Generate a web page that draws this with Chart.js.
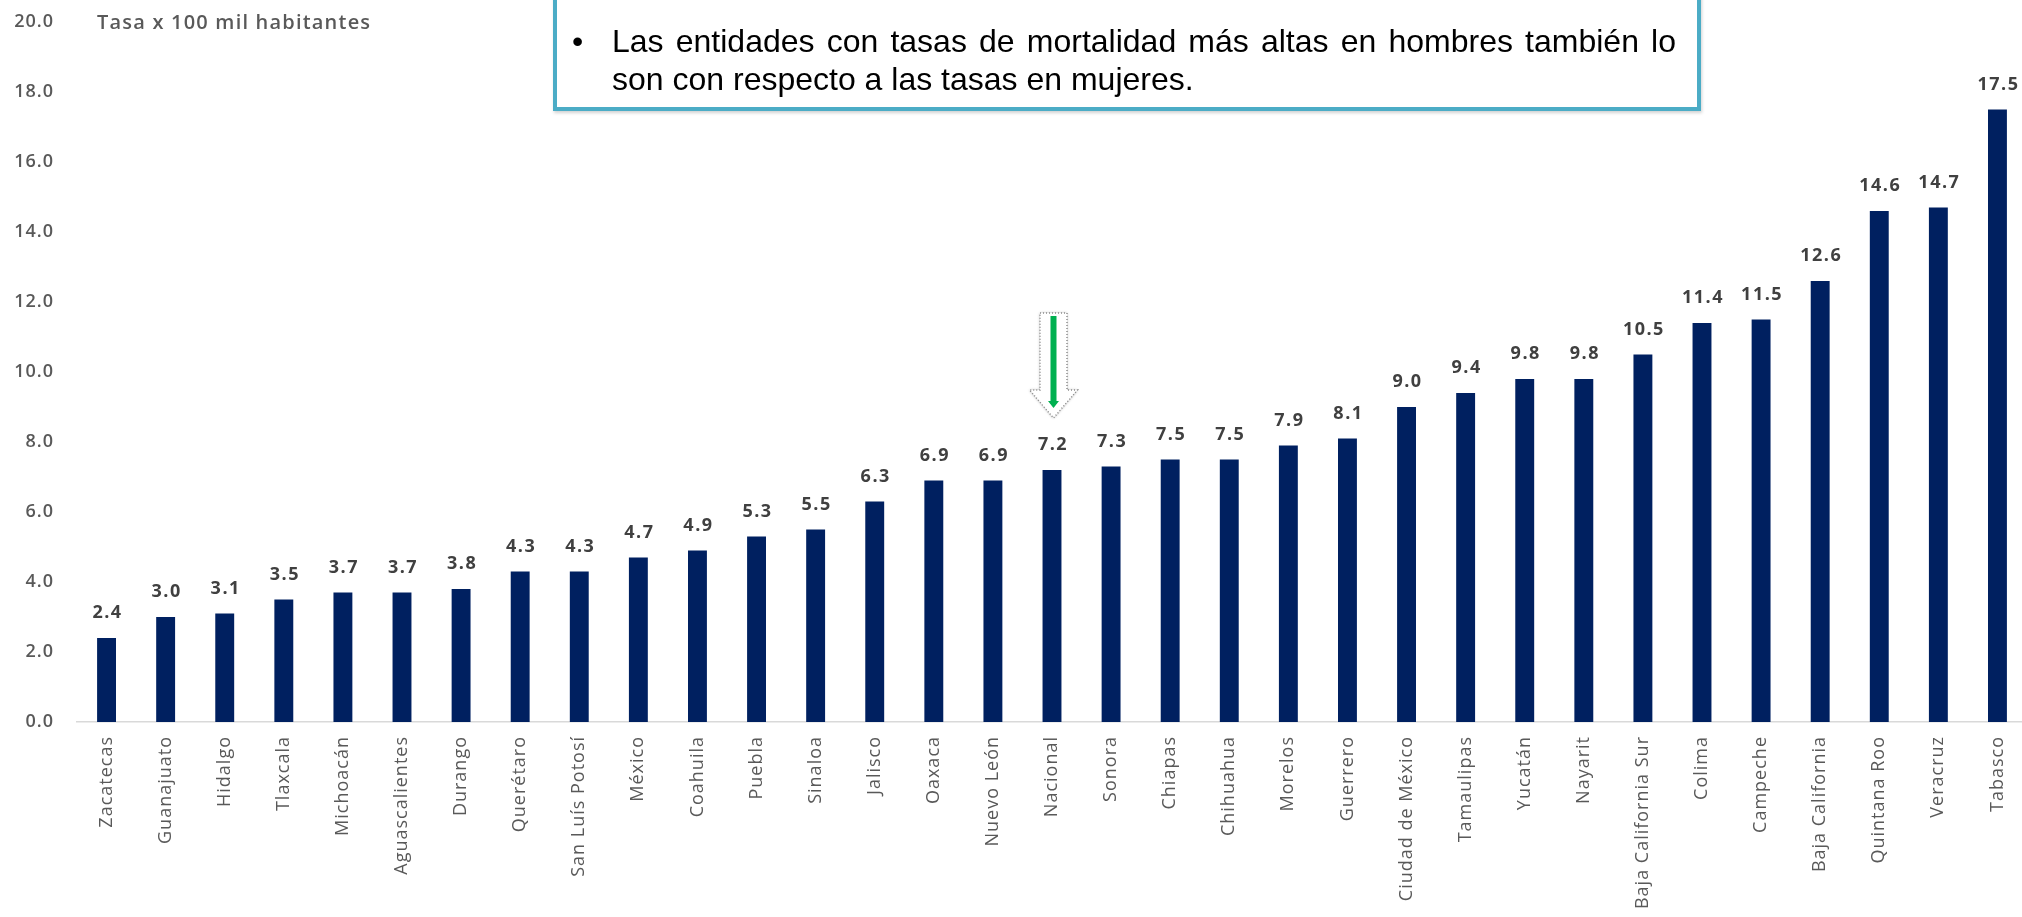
<!DOCTYPE html>
<html>
<head>
<meta charset="utf-8">
<script src="https://cdn.jsdelivr.net/npm/chart.js@4.4.1/dist/chart.umd.min.js"></script>
<style>
  html, body { margin: 0; padding: 0; background: #ffffff; width: 2022px; height: 917px; overflow: hidden; }
  #wrap { position: absolute; left: 0; top: 0; width: 2027px; height: 917px; }
  #note {
    position: absolute; left: 553px; top: -12px; width: 1148px; height: 123px;
    box-sizing: border-box; border: 4px solid #4BACC6; background: #ffffff;
    box-shadow: 1px 2px 3px rgba(0,0,0,0.18);
  }
  #bullet, #noteText {
    position: absolute; font-family: "Liberation Sans", Arial, sans-serif;
    font-size: 32px; line-height: 38px; color: #000000;
  }
  #bullet { left: 572px; top: 22px; }
  #noteText { left: 612px; top: 22px; width: 1064px; text-align: justify; }
</style>
</head>
<body>
<div id="wrap"><canvas id="c" width="2027" height="917"></canvas></div>
<div id="note"></div>
<div id="bullet">•</div>
<div id="noteText">Las entidades con tasas de mortalidad más altas en hombres también lo son con respecto a las tasas en mujeres.</div>
<script>
const categories = ["Zacatecas","Guanajuato","Hidalgo","Tlaxcala","Michoacán","Aguascalientes","Durango","Querétaro","San Luís Potosí","México","Coahuila","Puebla","Sinaloa","Jalisco","Oaxaca","Nuevo León","Nacional","Sonora","Chiapas","Chihuahua","Morelos","Guerrero","Ciudad de México","Tamaulipas","Yucatán","Nayarit","Baja California Sur","Colima","Campeche","Baja California","Quintana Roo","Veracruz","Tabasco"];
const tasas = [2.4,3.0,3.1,3.5,3.7,3.7,3.8,4.3,4.3,4.7,4.9,5.3,5.5,6.3,6.9,6.9,7.2,7.3,7.5,7.5,7.9,8.1,9.0,9.4,9.8,9.8,10.5,11.4,11.5,12.6,14.6,14.7,17.5];
const yTicks = [0,2,4,6,8,10,12,14,16,18,20];
const axisTitle = "Tasa x 100 mil habitantes";
const highlight = "Nacional";

const spacingPlugin = {
  id: 'spacing',
  beforeDraw(chart) { try { chart.ctx.letterSpacing = '1px'; } catch(e) {} },
  afterDraw(chart) { try { chart.ctx.letterSpacing = '0px'; } catch(e) {} }
};

const valueLabels = {
  id: 'valueLabels',
  afterDatasetsDraw(chart) {
    const ctx = chart.ctx;
    const meta = chart.getDatasetMeta(0);
    ctx.save();
    ctx.font = 'bold 18px "Open Sans", sans-serif';
    ctx.fillStyle = '#404040';
    ctx.textAlign = 'center';
    ctx.textBaseline = 'middle';
    try { ctx.letterSpacing = '1.5px'; } catch(e) {}
    meta.data.forEach((bar, i) => {
      ctx.fillText(tasas[i].toFixed(1), bar.x + 1, bar.y - 25);
    });
    ctx.restore();
  }
};

const axisTitlePlugin = {
  id: 'axisTitle',
  afterDraw(chart) {
    const ctx = chart.ctx;
    const y = chart.scales.y.getPixelForValue(20);
    ctx.save();
    ctx.font = '600 20px "Open Sans", sans-serif';
    ctx.fillStyle = '#595959';
    ctx.textAlign = 'left';
    ctx.textBaseline = 'middle';
    try { ctx.letterSpacing = '1.2px'; } catch(e) {}
    ctx.fillText(axisTitle, 97, y + 1);
    ctx.restore();
  }
};

const arrowPlugin = {
  id: 'arrow',
  afterDatasetsDraw(chart) {
    const idx = categories.indexOf(highlight);
    const x = chart.scales.x.getPixelForValue(idx) + 1.5;
    const tip = chart.scales.y.getPixelForValue(tasas[idx]) - 52;
    const ctx = chart.ctx;
    ctx.save();
    ctx.beginPath();
    ctx.moveTo(x - 13.5, tip - 105);
    ctx.lineTo(x + 13.5, tip - 105);
    ctx.lineTo(x + 13.5, tip - 28);
    ctx.lineTo(x + 24, tip - 28);
    ctx.lineTo(x, tip);
    ctx.lineTo(x - 24, tip - 28);
    ctx.lineTo(x - 13.5, tip - 28);
    ctx.closePath();
    ctx.fillStyle = '#ffffff';
    ctx.shadowColor = 'rgba(0,0,0,0.3)';
    ctx.shadowBlur = 3;
    ctx.fill();
    ctx.shadowBlur = 0;
    ctx.setLineDash([1, 2]);
    ctx.strokeStyle = '#8c8c8c';
    ctx.lineWidth = 1.5;
    ctx.stroke();
    ctx.setLineDash([]);
    ctx.fillStyle = '#00B050';
    ctx.fillRect(x - 3, tip - 102, 6, 88);
    ctx.beginPath();
    ctx.moveTo(x - 5.5, tip - 17);
    ctx.lineTo(x + 5.5, tip - 17);
    ctx.lineTo(x, tip - 10);
    ctx.closePath();
    ctx.fill();
    ctx.restore();
  }
};

new Chart(document.getElementById('c'), {
  type: 'bar',
  data: {
    labels: categories,
    datasets: [{
      data: tasas,
      backgroundColor: '#002060',
      borderWidth: 0,
      barPercentage: 0.32,
      categoryPercentage: 1.0
    }]
  },
  options: {
    responsive: false,
    animation: false,
    devicePixelRatio: 1,
    layout: { padding: { top: 22, right: 0, bottom: 0, left: 0 } },
    plugins: { legend: { display: false }, tooltip: { enabled: false }, title: { display: false } },
    scales: {
      x: {
        grid: { display: false, drawTicks: false },
        border: { display: true, color: '#d9d9d9', width: 1.5 },
        ticks: {
          autoSkip: false, maxRotation: 90, minRotation: 90, padding: 14,
          color: '#595959', font: { family: 'Open Sans', size: 18 }
        },
        afterFit(scale) { scale.height = 195; scale.paddingLeft = 0; scale.paddingRight = 0; }
      },
      y: {
        min: 0, max: 20,
        afterBuildTicks(scale) { scale.ticks = yTicks.map(v => ({ value: v })); },
        grid: { display: false, drawTicks: false },
        border: { display: false },
        ticks: {
          padding: 23, color: '#595959',
          font: { family: 'Open Sans', size: 18, weight: '600' },
          callback: v => Number(v).toFixed(1)
        },
        afterFit(scale) { scale.width = 77; scale.paddingTop = 0; scale.paddingBottom = 0; }
      }
    }
  },
  plugins: [spacingPlugin, valueLabels, axisTitlePlugin, arrowPlugin]
});
</script>
</body>
</html>
